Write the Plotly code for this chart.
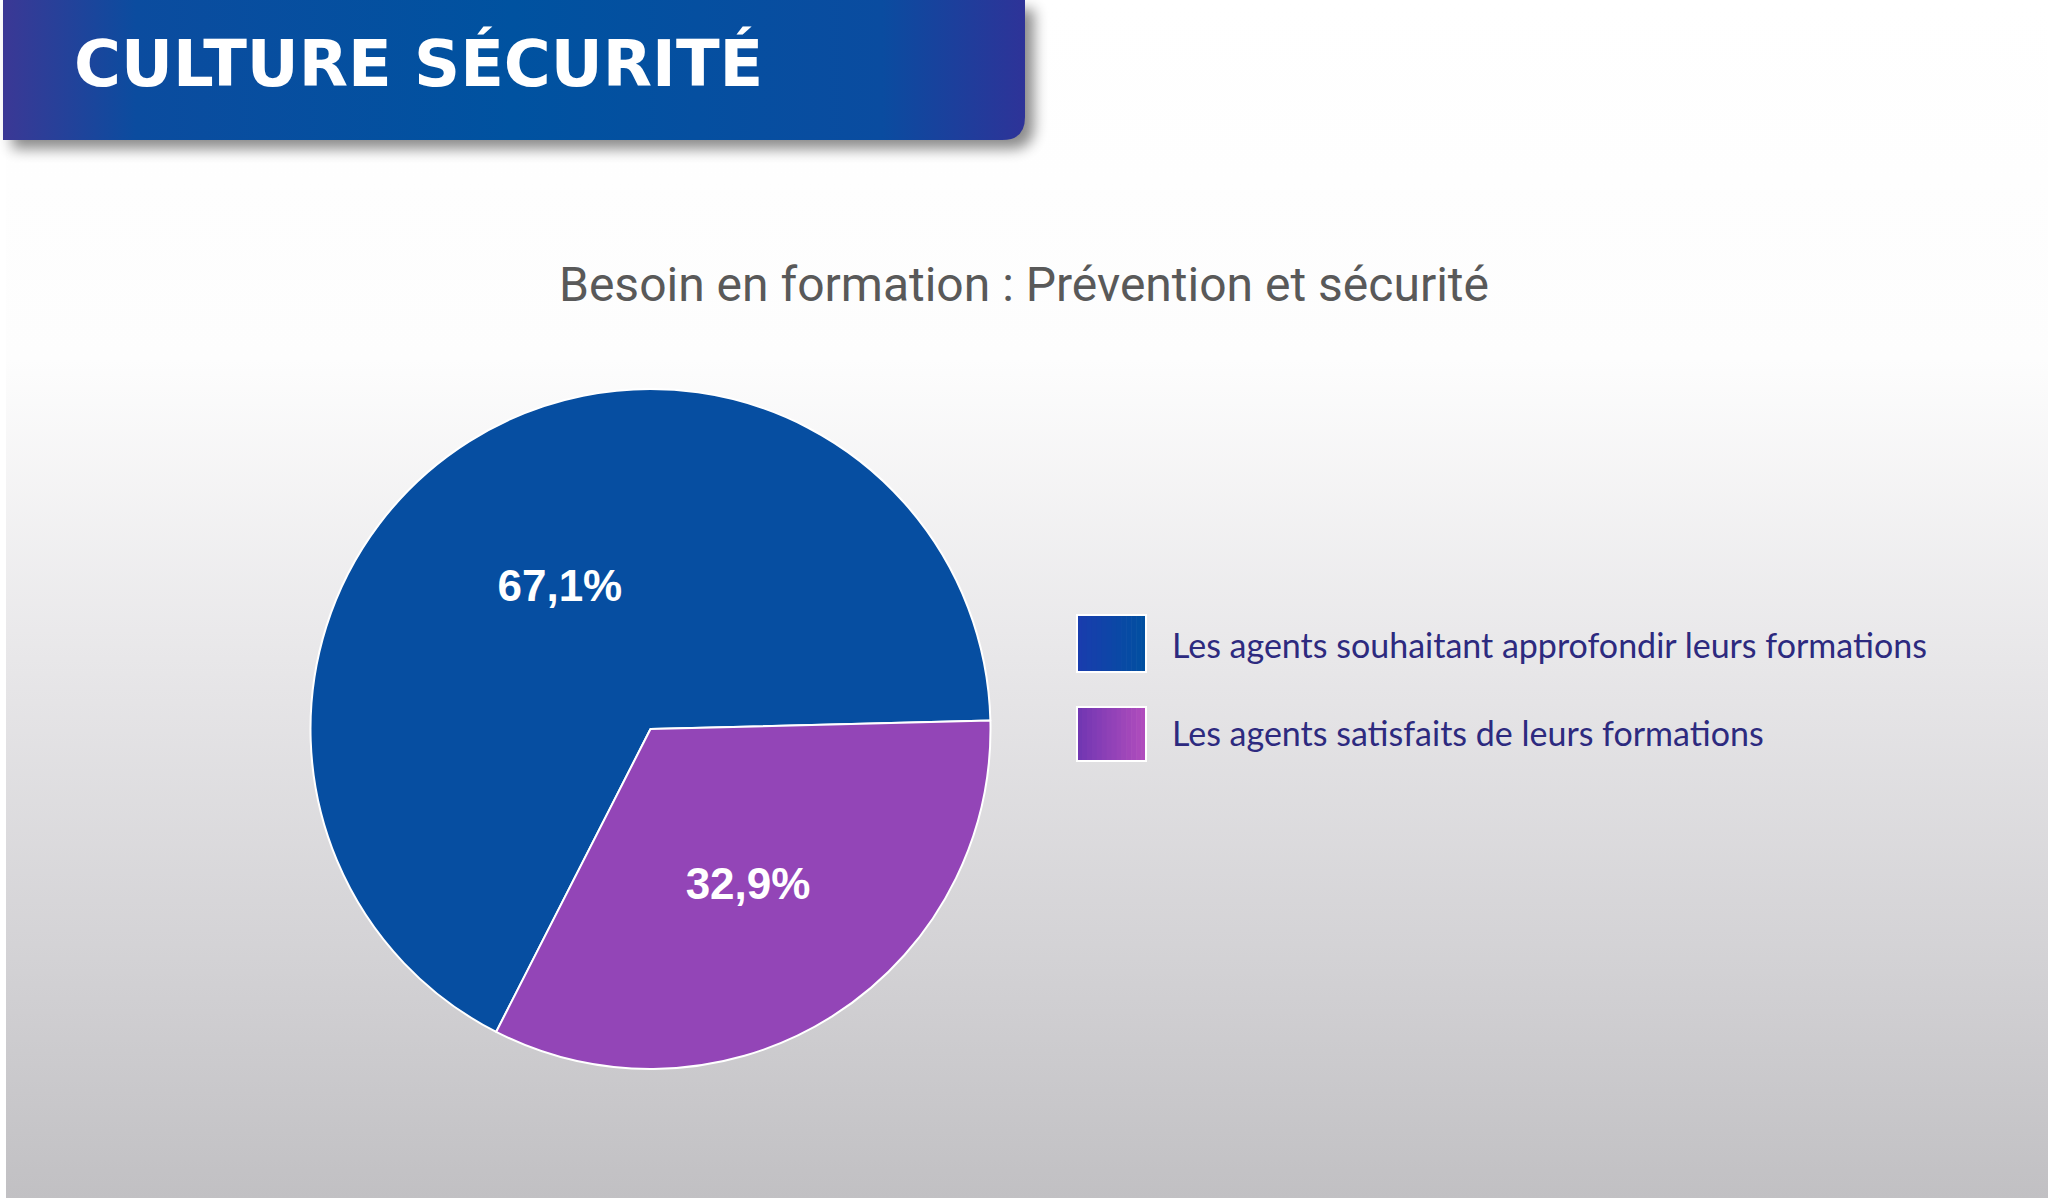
import base64
import plotly.graph_objects as go

# ---------------- data ----------------
labels = ["Les agents souhaitant approfondir leurs formations",
          "Les agents satisfaits de leurs formations"]
values = [67.1, 32.9]
colors = ["#064ea1", "#9345b7"]
chart_title = "Besoin en formation : Prévention et sécurité"
header_text = "CULTURE SÉCURITÉ"

# legend swatch gradient ends (style)
swatch_grad = [("#1a3cae", "#0050a0"), ("#7036b2", "#b24dbd")]

W, H = 2048, 1198


def px(x):
    return x / W


def py(y):
    return 1 - y / H


def mix(c1, c2, t):
    a = [int(c1[i:i + 2], 16) for i in (1, 3, 5)]
    b = [int(c2[i:i + 2], 16) for i in (1, 3, 5)]
    return "#" + "".join(f"{round(x + (y - x) * t):02x}" for x, y in zip(a, b))


# ---------------- decorative background (gradient page + header banner) ----------------
svg = f"""<svg xmlns='http://www.w3.org/2000/svg' width='{W}' height='{H}' viewBox='0 0 {W} {H}'>
<defs>
<linearGradient id='bg' x1='0' y1='0' x2='0' y2='1'>
<stop offset='0' stop-color='#ffffff'/>
<stop offset='0.30' stop-color='#fdfdfd'/>
<stop offset='0.55' stop-color='#e8e7e9'/>
<stop offset='0.80' stop-color='#d3d2d5'/>
<stop offset='1' stop-color='#c1c0c3'/>
</linearGradient>
<linearGradient id='hd' x1='0' y1='0' x2='1' y2='0'>
<stop offset='0' stop-color='#3b3895'/>
<stop offset='0.13' stop-color='#0b4c9f'/>
<stop offset='0.5' stop-color='#0052a0'/>
<stop offset='0.86' stop-color='#0a4ca0'/>
<stop offset='1' stop-color='#2e3398'/>
</linearGradient>
<filter id='sh' x='-10%' y='-30%' width='130%' height='170%'><feGaussianBlur stdDeviation='7'/></filter>
</defs>
<rect x='0' y='0' width='{W}' height='{H}' fill='url(#bg)'/>
<rect x='0' y='0' width='6' height='{H}' fill='#ffffff'/>
<path d='M3,0 H1025 V117 Q1025,140 1002,140 H3 Z' fill='#000' opacity='0.45' filter='url(#sh)' transform='translate(9,9)'/>
<path d='M3,0 H1025 V117 Q1025,140 1002,140 H3 Z' fill='url(#hd)'/>
</svg>"""
bg_uri = "data:image/svg+xml;base64," + base64.b64encode(svg.encode("utf-8")).decode("ascii")

# ---------------- pie ----------------
cx, cy, r = 650.5, 729, 340
fig = go.Figure()
fig.add_trace(go.Pie(
    labels=labels,
    values=values,
    sort=False,
    direction="clockwise",
    rotation=207,
    marker=dict(colors=colors, line=dict(color="#ffffff", width=2)),
    texttemplate="%{value:.1f}%",
    textposition="inside",
    insidetextorientation="horizontal",
    insidetextfont=dict(family="Liberation Sans, Arial, sans-serif", size=44, color="#ffffff", weight="bold"),
    hoverinfo="label+percent",
    showlegend=False,
    domain=dict(x=[px(cx - r), px(cx + r)], y=[py(cy + r), py(cy - r)]),
))

# ---------------- legend (manual, large swatches) ----------------
shapes = []
annotations = []
sw_x0, sw_x1 = 1077, 1146
sw_rows = [(615, 672), (707, 761)]
text_y = [644, 732]
n_strips = 14
for (y0, y1), ty, lab, (g0, g1) in zip(sw_rows, text_y, labels, swatch_grad):
    step = (sw_x1 - sw_x0) / n_strips
    for k in range(n_strips):
        shapes.append(dict(type="rect", xref="paper", yref="paper",
                           x0=px(sw_x0 + k * step), x1=px(sw_x0 + (k + 1) * step + 0.6),
                           y0=py(y1), y1=py(y0),
                           fillcolor=mix(g0, g1, (k + 0.5) / n_strips), line=dict(width=0), layer="above"))
    shapes.append(dict(type="rect", xref="paper", yref="paper",
                       x0=px(sw_x0), x1=px(sw_x1), y0=py(y1), y1=py(y0),
                       fillcolor="rgba(0,0,0,0)", line=dict(color="#ffffff", width=2), layer="above"))
    annotations.append(dict(text=lab, xref="paper", yref="paper",
                            x=px(1170), y=py(ty), xanchor="left", yanchor="middle",
                            showarrow=False,
                            font=dict(family="Lato, Open Sans, sans-serif", size=34, color="#2d2a7f")))

# chart title
annotations.append(dict(text=chart_title, xref="paper", yref="paper",
                        x=0.5, y=py(285), xanchor="center", yanchor="middle", showarrow=False,
                        font=dict(family="Roboto, sans-serif", size=48, color="#595959")))
# header text
annotations.append(dict(text=header_text, xref="paper", yref="paper",
                        x=px(72), y=py(63), xanchor="left", yanchor="middle", showarrow=False,
                        font=dict(family="DejaVu Sans, sans-serif", size=64, color="#ffffff", weight="bold")))

fig.update_layout(
    width=W, height=H,
    margin=dict(l=0, r=0, t=0, b=0),
    paper_bgcolor="#ffffff",
    plot_bgcolor="rgba(0,0,0,0)",
    separators=", ",
    images=[dict(source=bg_uri, xref="paper", yref="paper", x=0, y=1, sizex=1, sizey=1,
                 xanchor="left", yanchor="top", sizing="stretch", layer="below")],
    shapes=shapes,
    annotations=annotations,
)

fig.write_html("out.html")
